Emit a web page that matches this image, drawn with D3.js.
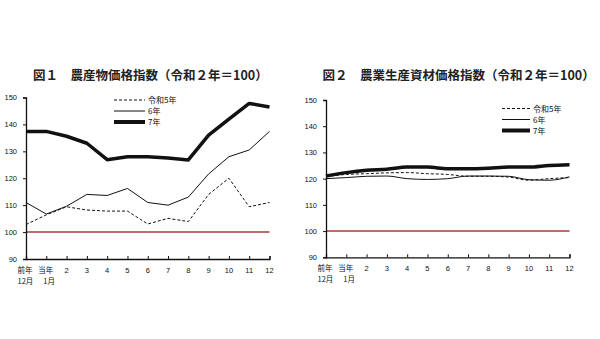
<!DOCTYPE html>
<html><head><meta charset="utf-8">
<script src="https://cdn.jsdelivr.net/npm/d3@7"></script>
<style>body{margin:0;background:#fff;}svg{display:block;}</style>
</head><body>
<svg id="c" width="600" height="339"></svg>
<script>
const months = ["前年12月","当年1月","2","3","4","5","6","7","8","9","10","11","12"];
const seriesNames = ["令和5年","6年","7年"];
const yTicks = [90,100,110,120,130,140,150];
// Fig.1 農産物価格指数
const fig1_r5 = [102.8,106.4,109.4,108.2,107.8,107.8,103.0,105.1,103.9,114.0,120.0,109.4,111.0];
const fig1_r6 = [111.0,106.7,109.6,114.0,113.6,116.2,111.0,110.0,113.0,121.6,128.0,130.5,137.4];
const fig1_r7 = [137.4,137.4,135.6,133.0,126.9,128.0,128.0,127.5,126.8,136.0,142.0,147.8,146.5];
// Fig.2 農業生産資材価格指数
const fig2_r5 = [120.8,121.6,121.9,122.2,122.3,121.9,121.6,120.9,120.9,120.6,119.4,120.0,120.4];
const fig2_r6 = [120.0,120.4,120.9,121.0,120.0,119.7,120.0,121.0,121.0,120.9,119.6,119.4,120.7];
const fig2_r7 = [121.0,122.3,123.2,123.6,124.4,124.4,123.8,123.8,124.0,124.4,124.4,125.0,125.3];

const svg = d3.select("#c");
const styles = [
  {w:1, dash:"3,2"},
  {w:1, dash:null},
  {w:3.5, dash:null}
];

function panel(o){
  const g = svg.append("g");
  g.append("text").attr("x", o.titleX).attr("y", 80)
    .attr("font-family","'Noto Sans CJK JP'").attr("font-weight","bold")
    .attr("font-size", 12.5).attr("fill","#222").text(o.title);
  const x = d3.scalePoint().domain(months).range([o.x0, o.x1]);
  const y = d3.scaleLinear().domain([90,150]).range([o.yb, o.yt]);
  // reference line 100
  g.append("line").attr("x1", o.x0).attr("x2", o.x1)
    .attr("y1", y(100)).attr("y2", y(100))
    .attr("stroke","#a83c3c").attr("stroke-width",1.5);
  // y axis
  const ya = d3.axisLeft(y).tickValues(yTicks).tickSize(3).tickPadding(6);
  const yg = g.append("g").attr("transform",`translate(${o.x0},0)`).call(ya);
  yg.select(".domain").attr("stroke","#111").attr("stroke-width",1.3);
  yg.selectAll(".tick line").attr("stroke","#111");
  yg.selectAll("text").attr("font-family","'Liberation Sans', Arial").attr("font-size",7.5).attr("fill","#111");
  // x axis
  const xa = d3.axisBottom(x).tickSize(-3).tickFormat("");
  const xg = g.append("g").attr("transform",`translate(0,${o.yb})`).call(xa);
  xg.select(".domain").attr("stroke","#111").attr("stroke-width",1.3);
  xg.selectAll(".tick line").attr("stroke","#111");
  months.forEach((m,i)=>{
    const tx = x(m);
    const t = g.append("text").attr("font-family","'Noto Sans CJK JP', 'Liberation Sans'")
      .attr("font-size",7.5).attr("fill","#111");
    if(i===0){
      t.attr("x", tx-8.5).attr("y", o.yb+14).attr("text-anchor","start").text("前年");
      g.append("text").attr("font-family","'Noto Sans CJK JP'").attr("font-size",7.5).attr("fill","#111")
        .attr("x", tx-8.5).attr("y", o.yb+25).text("12月");
    } else if(i===1){
      t.attr("x", tx-8).attr("y", o.yb+14).attr("text-anchor","start").text("当年");
      g.append("text").attr("font-family","'Noto Sans CJK JP'").attr("font-size",7.5).attr("fill","#111")
        .attr("x", tx-3).attr("y", o.yb+25).text("1月");
    } else {
      t.attr("x", tx).attr("y", o.yb+14).attr("text-anchor","middle")
       .attr("font-family","'Liberation Sans', Arial").text(m);
    }
  });
  const line = d3.line().x((d,i)=>x(months[i])).y(d=>y(d)).curve(o.curve);
  o.data.forEach((s,k)=>{
    g.append("path").datum(s).attr("d",line).attr("fill","none")
      .attr("stroke","#111").attr("stroke-width",styles[k].w)
      .attr("stroke-dasharray",styles[k].dash).attr("stroke-linejoin","round");
  });
  // legend
  seriesNames.forEach((n,k)=>{
    const ly = o.legY + k*11;
    g.append("line").attr("x1",o.legX).attr("x2",o.legX+o.legW).attr("y1",ly).attr("y2",ly)
      .attr("stroke","#111").attr("stroke-width",k===2?4:1).attr("stroke-dasharray",styles[k].dash);
    g.append("text").attr("x",o.legX+o.legW+3).attr("y",ly+3)
      .attr("font-family","'Noto Sans CJK JP'").attr("font-size",8).attr("fill","#111").text(n);
  });
}

panel({title:"図１　農産物価格指数（令和２年＝100）", titleX:33,
  x0:26, x1:269.5, yb:259, yt:97.5, data:[fig1_r5,fig1_r6,fig1_r7],
  curve:d3.curveLinear, legX:114, legW:31, legY:100});
panel({title:"図２　農業生産資材価格指数（令和２年＝100）", titleX:322.5,
  x0:326, x1:569.5, yb:257.3, yt:100, data:[fig2_r5,fig2_r6,fig2_r7],
  curve:d3.curveMonotoneX, legX:502, legW:28, legY:108.5});
</script>
</body></html>
